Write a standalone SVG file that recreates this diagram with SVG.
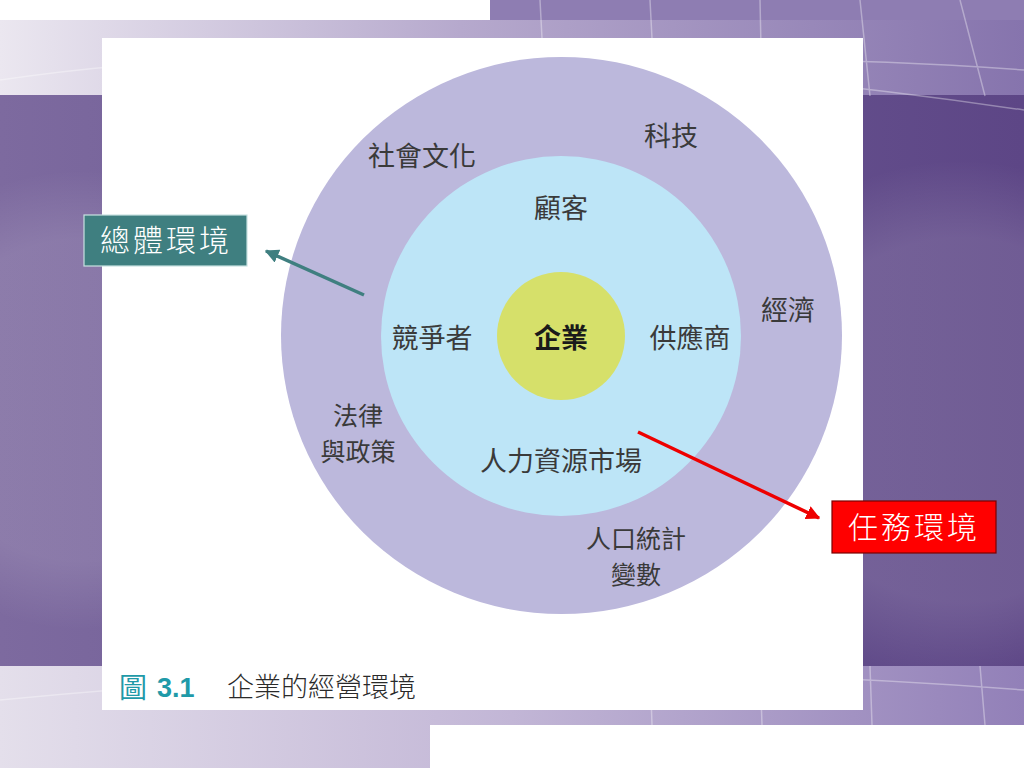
<svg xmlns="http://www.w3.org/2000/svg" width="1024" height="768" viewBox="0 0 1024 768">
<defs>
<linearGradient id="lightBand" x1="0" y1="0" x2="1" y2="0">
<stop offset="0" stop-color="#ebe7f0"/>
<stop offset="0.45" stop-color="#b6a9cd"/>
<stop offset="1" stop-color="#8674ad"/>
</linearGradient>
<linearGradient id="darkBand" x1="0" y1="0" x2="1" y2="0">
<stop offset="0" stop-color="#7d6a9f"/>
<stop offset="0.5" stop-color="#6b5893"/>
<stop offset="1" stop-color="#5d4686"/>
</linearGradient>
<linearGradient id="lowBand" x1="0" y1="0" x2="1" y2="0">
<stop offset="0" stop-color="#e4dfeb"/>
<stop offset="0.5" stop-color="#c2b6d6"/>
<stop offset="1" stop-color="#9280b8"/>
</linearGradient>
<radialGradient id="globe" cx="0.5" cy="0.5" r="0.5">
<stop offset="0.7" stop-color="#ffffff" stop-opacity="0.12"/>
<stop offset="1" stop-color="#ffffff" stop-opacity="0"/>
</radialGradient>
<marker id="tealHead" viewBox="0 0 10 10" refX="9" refY="5" markerWidth="4" markerHeight="4" orient="auto">
<path d="M0,0 L10,5 L0,10 z" fill="#3f7f80"/>
</marker>
<marker id="redHead" viewBox="0 0 10 10" refX="9" refY="5" markerWidth="4" markerHeight="4" orient="auto">
<path d="M0,0 L10,5 L0,10 z" fill="#ee0000"/>
</marker>
</defs>
<style>
.lbl{font-family:"Noto Sans CJK TC","Noto Sans CJK SC",sans-serif;font-size:27px;fill:#3a3a3a;text-anchor:middle}
.lbl2{font-family:"Noto Sans CJK TC","Noto Sans CJK SC",sans-serif;font-size:25px;fill:#3a3a3a;text-anchor:middle}
.box{font-family:"Noto Sans CJK TC",sans-serif;font-size:30px;fill:#ffffff;text-anchor:middle;letter-spacing:3px;font-weight:300}
.grid{stroke:#ffffff;stroke-opacity:0.35;stroke-width:1.5;fill:none}
</style>
<!-- slide background -->
<rect x="0" y="0" width="1024" height="768" fill="#ffffff"/>
<rect x="0" y="20" width="1024" height="76" fill="url(#lightBand)"/>
<rect x="490" y="0" width="534" height="20" fill="#8e7db2"/>
<rect x="0" y="95" width="1024" height="571" fill="url(#darkBand)"/>
<ellipse cx="80" cy="400" rx="230" ry="230" fill="url(#globe)"/>
<ellipse cx="960" cy="420" rx="260" ry="260" fill="url(#globe)"/>
<rect x="0" y="666" width="1024" height="102" fill="url(#lowBand)"/>
<rect x="430" y="725" width="594" height="43" fill="#ffffff"/>
<path class="grid" d="M540,0 L545,96 M650,0 L655,96 M760,0 L762,96 M860,0 L870,96 M960,0 L985,96 M0,80 Q400,20 1024,110 M300,96 Q600,40 1024,70"/>
<path class="grid" d="M0,700 Q500,650 1024,690 M650,666 L652,725 M760,666 L762,725 M870,666 L872,725 M980,666 L985,725"/>
<!-- figure panel -->
<rect x="102" y="38" width="761" height="672" fill="#ffffff"/>
<g id="general-environment">
<ellipse cx="561.5" cy="335.5" rx="280.5" ry="278.5" fill="#bcb8dc"/>
</g>
<g id="task-environment">
<circle cx="561" cy="336" r="180" fill="#bde5f7"/>
</g>
<g id="business">
<circle cx="561" cy="336" r="64" fill="#d6e06a"/>
<text x="561" y="348" class="lbl" style="font-weight:bold;fill:#1a1a1a">企業</text>
</g>
<g id="outer-labels">
<text x="422" y="166" class="lbl">社會文化</text>
<text x="671" y="146" class="lbl">科技</text>
<text x="788" y="320" class="lbl">經濟</text>
<text x="358" y="425" class="lbl2">法律</text>
<text x="358" y="461" class="lbl2">與政策</text>
<text x="636" y="548" class="lbl2">人口統計</text>
<text x="636" y="584" class="lbl2">變數</text>
</g>
<g id="inner-labels">
<text x="561" y="218" class="lbl">顧客</text>
<text x="432" y="348" class="lbl">競爭者</text>
<text x="690" y="348" class="lbl">供應商</text>
<text x="561" y="471" class="lbl">人力資源市場</text>
</g>
<g id="caption">
<text x="119" y="698" style="font-family:'Noto Sans CJK TC',sans-serif;font-size:28px;fill:#1f9aa8">圖</text>
<text x="157" y="697" style="font-family:'Liberation Sans',sans-serif;font-size:27px;font-weight:bold;fill:#1f9aa8">3.1</text>
<text x="227" y="697" style="font-family:'Noto Sans CJK TC',sans-serif;font-size:27px;fill:#2a2a2a;font-weight:300">企業的經營環境</text>
</g>
<g id="connectors">
<line x1="364" y1="295" x2="266" y2="251" stroke="#3f7f80" stroke-width="3.5" marker-end="url(#tealHead)"/>
<line x1="638" y1="432" x2="819" y2="518" stroke="#ee0000" stroke-width="3.5" marker-end="url(#redHead)"/>
</g>
<g id="label-general">
<rect x="84" y="215" width="163" height="51" fill="#3f7f80" stroke="#c9e2e2" stroke-width="1.2"/>
<text x="166" y="251" class="box">總體環境</text>
</g>
<g id="label-task">
<rect x="832" y="501" width="164" height="52" fill="#ff0000" stroke="#7a0000" stroke-width="1.2"/>
<text x="914" y="538" class="box">任務環境</text>
</g>
</svg>
